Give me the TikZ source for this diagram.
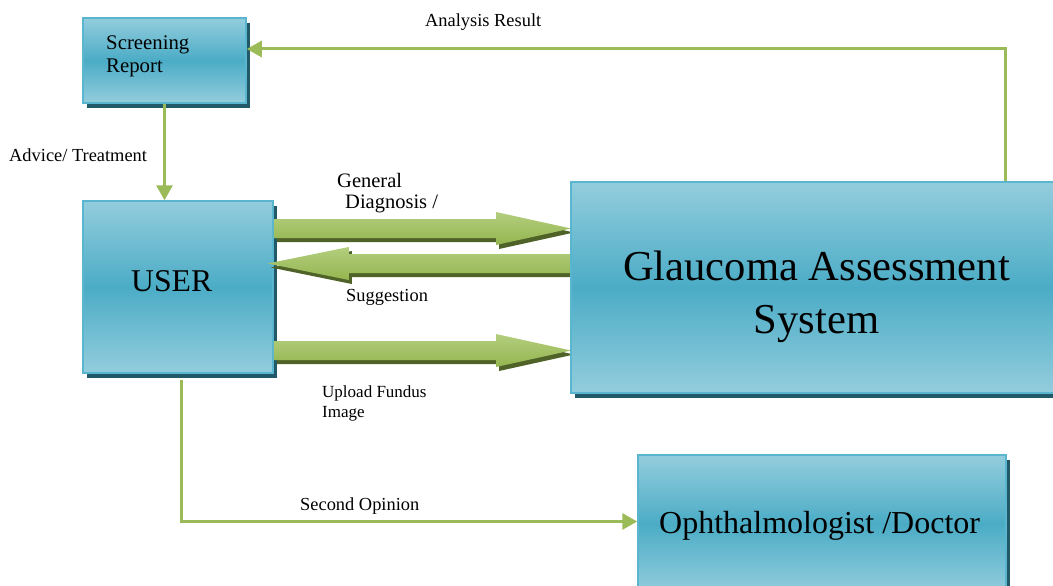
\documentclass[tikz,border=0pt]{standalone}
\usepackage{fontspec}
\setmainfont{Liberation Serif}
\usetikzlibrary{arrows.meta,shadows,calc}
\definecolor{boxlight}{HTML}{93CDDD}
\definecolor{boxmid}{HTML}{4BACC6}
\definecolor{boxedge}{HTML}{5AB6CF}
\definecolor{boxshadow}{HTML}{215968}
\definecolor{lgreen}{HTML}{9BBB59}
\definecolor{agreenhi}{HTML}{B3CE7D}
\definecolor{agreen}{HTML}{94B550}
\definecolor{ashadow}{HTML}{4F6228}
% fat block arrow: #1 from, #2 to, #3 style, #4 offset, #5 head length
\newcommand\fatarrow[5]{%
  \path[#3] let \p1=($(#1)+#4$), \p2=($(#2)+#4$), \p3=($(#2)!#5!(#1)+#4$) in
    (\x1,\y1+9.5pt) -- (\x3,\y1+9.5pt) -- (\x3,\y1+16.5pt) -- (\x2,\y2)
    -- (\x3,\y1-16.5pt) -- (\x3,\y1-9.5pt) -- (\x1,\y1-9.5pt) -- cycle;}
\begin{document}
\begin{tikzpicture}[x=1pt,y=-1pt,
  box/.style={rectangle, draw=boxedge, line width=1.5pt,
    top color=boxlight, bottom color=boxlight, middle color=boxmid,
    drop shadow={fill=boxshadow, opacity=1, shadow xshift=4pt, shadow yshift=-5pt},
    inner sep=0pt},
  lbl/.style={anchor=base west, inner sep=0pt, font=\fontsize{18.4}{22}\selectfont},
  conn/.style={draw=lgreen, line width=3pt, -{Triangle[width=16pt,length=15pt]}},
  fatfill/.style={top color=agreenhi, bottom color=agreen},
  fatshadow/.style={fill=ashadow},
]
\useasboundingbox (0,0) rectangle (1053,586);
\clip (0,0) rectangle (1053,586);

% boxes (left side)
\node[box, minimum width=163pt, minimum height=85pt] (sr) at (164.5,60.5) {};
\node[box, minimum width=190pt, minimum height=172pt] (user) at (178,287) {};

% coordinates for the block arrows
\coordinate (gw) at (571,287.5);
\coordinate (a1s) at (user.east |- 0,228.5);
\coordinate (a1e) at (gw |- 0,228.5);
\coordinate (a2s) at (gw |- 0,263.5);
\coordinate (a2e) at ($(user.east |- 0,263.5)+(-6,0)$);
\coordinate (a3s) at (user.east |- 0,350.5);
\coordinate (a3e) at (gw |- 0,350.5);
\fatarrow{a1s}{a1e}{fatshadow}{(3pt,-4pt)}{75pt}
\fatarrow{a1s}{a1e}{fatfill}{(0pt,0pt)}{75pt}
\fatarrow{a2s}{a2e}{fatshadow}{(3pt,-4pt)}{81pt}
\fatarrow{a2s}{a2e}{fatfill}{(0pt,0pt)}{81pt}
\fatarrow{a3s}{a3e}{fatshadow}{(3pt,-4pt)}{75pt}
\fatarrow{a3s}{a3e}{fatfill}{(0pt,0pt)}{75pt}

% boxes (right side)
\node[box, minimum width=491pt, minimum height=211pt] (gas) at (816.5,287.5) {};
\node[box, minimum width=368pt, minimum height=138pt] (oph) at (822,524) {};

% box texts
\node[anchor=base west, inner sep=0pt, font=\fontsize{20.8}{24}\selectfont] (srt1) at (106,49.3) {Screening};
\node[anchor=base west, inner sep=0pt, font=\fontsize{20.8}{24}\selectfont] (srt2) at (106,72.7) {Report};
\node[anchor=base west, inner sep=0pt, font=\fontsize{31.7}{36}\selectfont] (usert) at (131,291) {USER};
\node[anchor=base, inner sep=0pt, font=\fontsize{42.6}{50}\selectfont] (gast1) at (816.5,280) {Glaucoma Assessment};
\node[anchor=base, inner sep=0pt, font=\fontsize{42.6}{50}\selectfont] (gast2) at (816.5,333) {System};
\node[anchor=base west, inner sep=0pt, font=\fontsize{32}{38}\selectfont] (opht) at (659,533.3) {Ophthalmologist /Doctor};

% thin connectors
\coordinate (c1) at (1005,49);
\draw[conn] (gas.north -| c1) -- (c1) -- (sr.east |- c1);
\draw[conn] (sr.south) -- (sr.south |- user.north);
\coordinate (c2) at (181,521.5);
\draw[conn] ($(user.south -| c2)+(0,6)$) -- (c2) -- (oph.west |- c2);

% labels
\node[lbl] (lar) at (425,27) {Analysis Result};
\node[lbl] (lat) at (9,161) {Advice/ Treatment};
\node[lbl, font=\fontsize{20.5}{24}\selectfont] (lgd1) at (337,187) {General};
\node[lbl, font=\fontsize{20.5}{24}\selectfont] (lgd2) at (345,208) {Diagnosis /};
\node[lbl] (lsg) at (346,301) {Suggestion};
\node[lbl, font=\fontsize{17}{20}\selectfont] (luf1) at (322,397) {Upload Fundus};
\node[lbl, font=\fontsize{17}{20}\selectfont] (luf2) at (322,417) {Image};
\node[lbl] (lso) at (300,510) {Second Opinion};
\end{tikzpicture}
\end{document}
